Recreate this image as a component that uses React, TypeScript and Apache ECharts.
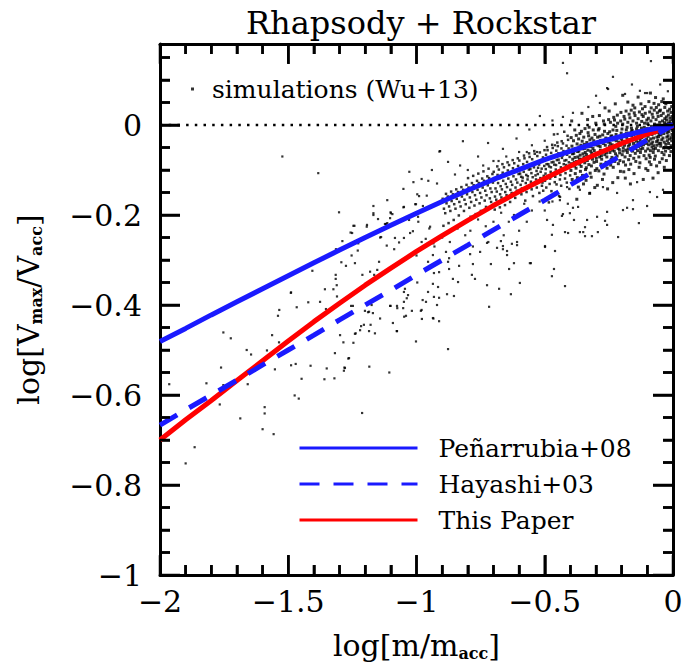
import React, { useEffect, useRef } from "react";
import * as echarts from "echarts";

const FONT = "DejaVu Serif";

// axis ranges and tick values
const X_MIN = -2, X_MAX = 0, Y_MIN = -1, Y_MAX = 0.18;
const xMajorTicks = [-2, -1.5, -1, -0.5, 0];
const xMinorTicks = [-1.9, -1.8, -1.7, -1.6, -1.4, -1.3, -1.2, -1.1, -0.9, -0.8, -0.7, -0.6, -0.4, -0.3, -0.2, -0.1];
const yMajorTicks = [-1, -0.8, -0.6, -0.4, -0.2, 0];
const yMinorTicks = [-0.95, -0.9, -0.85, -0.75, -0.7, -0.65, -0.55, -0.5, -0.45, -0.35, -0.3, -0.25, -0.15, -0.1, -0.05, 0.05, 0.1, 0.15];

// model curves, sampled at log[m/m_acc]
const logM = [-2, -1.9, -1.8, -1.7, -1.6, -1.5, -1.4, -1.3, -1.2, -1.1, -1, -0.9, -0.8, -0.7, -0.6, -0.5, -0.4, -0.3, -0.2, -0.1, 0];
const penarrubia = [-0.481, -0.452, -0.422, -0.393, -0.364, -0.335, -0.306, -0.278, -0.25, -0.223, -0.196, -0.17, -0.145, -0.121, -0.099, -0.077, -0.058, -0.04, -0.025, -0.011, 0];
const hayashi = [-0.667, -0.633, -0.6, -0.567, -0.533, -0.5, -0.467, -0.433, -0.4, -0.367, -0.333, -0.3, -0.267, -0.233, -0.2, -0.167, -0.133, -0.1, -0.067, -0.033, 0];
const thisPaper = [-0.7, -0.655, -0.612, -0.568, -0.524, -0.48, -0.437, -0.396, -0.356, -0.318, -0.281, -0.246, -0.212, -0.179, -0.148, -0.119, -0.091, -0.065, -0.041, -0.02, -0.002];

// simulations (Wu+13), dense part near m/m_acc ~ 1
const simCore: [number, number][] = [
[-0.003,0.012],[-0.006,-0.004],[-0.004,-0.021],[-0.008,0.028],[-0.005,-0.035],[-0.009,0.003],[-0.002,-0.012],[-0.007,-0.046],[-0.004,0.019],[-0.006,-0.028],[-0.009,-0.008],[-0.005,0.041],[-0.008,-0.059],
[-0.012,0.008],[-0.016,-0.015],[-0.014,-0.031],[-0.018,0.022],[-0.011,-0.002],[-0.017,-0.041],[-0.013,0.035],[-0.019,-0.024],[-0.015,-0.009],[-0.012,0.015],[-0.016,-0.052],[-0.014,-0.068],[-0.018,0.004],
[-0.022,-0.006],[-0.026,0.018],[-0.024,-0.027],[-0.028,-0.043],[-0.021,0.031],[-0.027,0.002],[-0.023,-0.017],[-0.029,-0.058],[-0.025,0.011],[-0.022,-0.035],[-0.026,-0.079],[-0.028,0.047],[-0.024,-0.011],
[-0.032,0.014],[-0.036,-0.019],[-0.034,-0.038],[-0.038,0.026],[-0.031,-0.004],[-0.037,-0.051],[-0.033,0.005],[-0.039,-0.029],[-0.035,-0.066],[-0.032,0.039],[-0.036,-0.012],[-0.034,-0.094],[-0.038,0.058],
[-0.042,-0.009],[-0.046,0.021],[-0.044,-0.033],[-0.048,-0.047],[-0.041,0.009],[-0.047,-0.022],[-0.043,-0.061],[-0.049,0.033],[-0.045,-0.003],[-0.042,-0.075],[-0.046,-0.015],[-0.044,0.052],[-0.048,-0.041],
[-0.052,0.006],[-0.056,-0.026],[-0.054,-0.041],[-0.058,0.019],[-0.051,-0.013],[-0.057,-0.057],[-0.053,0.031],[-0.059,-0.034],[-0.055,-0.007],[-0.052,-0.083],[-0.056,0.045],[-0.054,-0.021],[-0.058,-0.106],
[-0.062,-0.016],[-0.066,0.012],[-0.064,-0.037],[-0.068,-0.052],[-0.061,0.027],[-0.067,-0.004],[-0.063,-0.027],[-0.069,-0.069],[-0.065,0.039],[-0.062,-0.045],[-0.066,-0.011],[-0.064,-0.091],[-0.068,0.061],
[-0.072,0.002],[-0.076,-0.029],[-0.074,-0.046],[-0.078,0.017],[-0.071,-0.018],[-0.077,-0.061],[-0.073,0.033],[-0.079,-0.038],[-0.075,-0.008],[-0.072,-0.076],[-0.076,-0.054],[-0.074,0.048],[-0.078,-0.118],
[-0.082,-0.021],[-0.086,0.009],[-0.084,-0.042],[-0.088,-0.057],[-0.081,0.024],[-0.087,-0.031],[-0.083,-0.011],[-0.089,-0.072],[-0.085,0.038],[-0.082,-0.049],[-0.086,-0.088],[-0.084,-0.003],[-0.088,0.071],
[-0.092,-0.012],[-0.096,0.015],[-0.094,-0.036],[-0.098,-0.053],[-0.091,0.029],[-0.097,-0.025],[-0.093,-0.067],[-0.099,0.003],[-0.095,-0.044],[-0.092,-0.082],[-0.096,-0.019],[-0.094,0.052],[-0.098,-0.101],
[-0.102,0.011],[-0.106,-0.022],[-0.104,-0.041],[-0.108,0.026],[-0.101,-0.008],[-0.107,-0.058],[-0.103,-0.031],[-0.109,0.041],[-0.105,-0.075],[-0.102,-0.015],[-0.106,-0.097],
[-0.112,-0.005],[-0.116,0.019],[-0.114,-0.037],[-0.118,-0.052],[-0.111,0.004],[-0.117,-0.026],[-0.113,-0.068],[-0.119,0.036],[-0.115,-0.044],[-0.112,-0.012],[-0.116,-0.121],
[-0.122,0.008],[-0.126,-0.019],[-0.124,-0.046],[-0.128,-0.033],[-0.121,0.023],[-0.127,-0.061],[-0.123,-0.007],[-0.129,-0.084],[-0.125,0.047],[-0.122,-0.028],[-0.126,-0.054],
[-0.132,-0.013],[-0.136,0.014],[-0.134,-0.039],[-0.138,-0.057],[-0.131,0.029],[-0.137,-0.024],[-0.133,-0.071],[-0.139,-0.003],[-0.135,-0.048],[-0.132,-0.094],[-0.136,0.062],
[-0.142,0.004],[-0.146,-0.028],[-0.144,-0.045],[-0.148,0.021],[-0.141,-0.017],[-0.147,-0.063],[-0.143,-0.036],[-0.149,0.038],[-0.145,-0.081],[-0.142,-0.009],[-0.146,-0.052],
[-0.152,-0.021],[-0.156,0.009],[-0.154,-0.041],[-0.158,-0.058],[-0.151,0.027],[-0.157,-0.032],[-0.153,-0.074],[-0.159,-0.012],[-0.155,-0.049],[-0.152,-0.108],[-0.156,0.044],
[-0.162,-0.007],[-0.166,-0.035],[-0.164,-0.052],[-0.168,0.016],[-0.161,-0.024],[-0.167,-0.068],[-0.163,0.033],[-0.169,-0.043],[-0.165,-0.087],[-0.162,-0.015],[-0.166,-0.131],
[-0.172,-0.018],[-0.176,0.006],[-0.174,-0.047],[-0.178,-0.061],[-0.171,0.024],[-0.177,-0.033],[-0.173,-0.077],[-0.179,-0.005],[-0.175,-0.054],[-0.172,-0.099],[-0.176,0.051],
[-0.182,-0.011],[-0.186,-0.039],[-0.184,-0.056],[-0.188,0.013],[-0.181,-0.027],[-0.187,-0.071],[-0.183,0.031],[-0.189,-0.045],[-0.185,-0.089],[-0.182,-0.019],[-0.186,-0.118],
[-0.192,-0.024],[-0.196,0.002],[-0.194,-0.051],[-0.198,-0.066],[-0.191,0.019],[-0.197,-0.036],[-0.193,-0.082],[-0.199,-0.009],[-0.195,-0.058],[-0.192,-0.104],[-0.196,0.066],
[-0.202,-0.018],[-0.206,-0.045],[-0.204,0.009],[-0.208,-0.062],[-0.201,-0.031],[-0.207,-0.079],[-0.203,0.028],[-0.209,-0.055],[-0.205,-0.103],
[-0.212,-0.027],[-0.216,0.004],[-0.214,-0.052],[-0.218,-0.069],[-0.211,-0.038],[-0.217,0.022],[-0.213,-0.086],[-0.219,-0.012],[-0.215,-0.117],
[-0.222,-0.021],[-0.226,-0.049],[-0.224,-0.064],[-0.228,0.011],[-0.221,-0.035],[-0.227,-0.081],[-0.223,-0.003],[-0.229,-0.058],[-0.225,0.047],
[-0.232,-0.033],[-0.236,-0.056],[-0.234,-0.011],[-0.238,-0.072],[-0.231,0.017],[-0.237,-0.044],[-0.233,-0.094],[-0.239,-0.024],[-0.235,-0.128],
[-0.242,-0.026],[-0.246,-0.061],[-0.244,0.006],[-0.248,-0.048],[-0.241,-0.077],[-0.247,-0.015],[-0.243,-0.089],[-0.249,0.031],[-0.245,-0.041],
[-0.252,-0.038],[-0.256,-0.053],[-0.254,-0.019],[-0.258,-0.071],[-0.251,0.012],[-0.257,-0.096],[-0.253,-0.031],[-0.259,-0.062],[-0.255,-0.142],
[-0.262,-0.029],[-0.266,-0.066],[-0.264,-0.045],[-0.268,0.002],[-0.261,-0.083],[-0.267,-0.014],[-0.263,-0.057],[-0.269,-0.109],[-0.265,0.038],
[-0.272,-0.041],[-0.276,-0.059],[-0.274,-0.022],[-0.278,-0.076],[-0.271,0.009],[-0.277,-0.093],[-0.273,-0.035],[-0.279,-0.068],[-0.275,-0.121],
[-0.282,-0.034],[-0.286,-0.071],[-0.284,-0.048],[-0.288,-0.008],[-0.281,-0.087],[-0.287,0.021],[-0.283,-0.056],[-0.289,-0.102],[-0.285,-0.025],
[-0.292,-0.046],[-0.296,-0.063],[-0.294,-0.027],[-0.298,-0.081],[-0.291,-0.011],[-0.297,-0.097],[-0.293,-0.038],[-0.299,-0.074],[-0.295,-0.134],
[-0.302,-0.044],[-0.306,-0.068],[-0.304,-0.021],[-0.308,-0.083],[-0.301,0.004],[-0.307,-0.057],[-0.303,-0.101],[-0.309,-0.035],[-0.305,-0.139],
[-0.312,-0.052],[-0.316,-0.029],[-0.314,-0.076],[-0.318,-0.091],[-0.311,-0.011],[-0.317,-0.063],[-0.313,0.019],[-0.319,-0.116],[-0.315,-0.041],
[-0.322,-0.048],[-0.326,-0.071],[-0.324,-0.033],[-0.328,-0.088],[-0.321,-0.058],[-0.327,-0.005],[-0.323,-0.107],[-0.329,-0.024],[-0.325,-0.152],
[-0.332,-0.056],[-0.336,-0.039],[-0.334,-0.079],[-0.338,-0.095],[-0.331,-0.017],[-0.337,-0.066],[-0.333,0.012],[-0.339,-0.123],[-0.335,-0.047],
[-0.342,-0.061],[-0.346,-0.043],[-0.344,-0.084],[-0.348,-0.027],[-0.341,-0.099],[-0.347,-0.071],[-0.343,-0.008],[-0.349,-0.131],[-0.345,-0.052],
[-0.352,-0.053],[-0.356,-0.076],[-0.354,-0.036],[-0.358,-0.092],[-0.351,-0.064],[-0.357,-0.014],[-0.353,-0.112],[-0.359,-0.045],[-0.355,0.026],
[-0.362,-0.067],[-0.366,-0.049],[-0.364,-0.087],[-0.368,-0.031],[-0.361,-0.103],[-0.367,-0.058],[-0.363,-0.019],[-0.369,-0.138],[-0.365,-0.076],
[-0.372,-0.059],[-0.376,-0.081],[-0.374,-0.042],[-0.378,-0.096],[-0.371,-0.071],[-0.377,-0.023],[-0.373,-0.117],[-0.379,-0.052],[-0.375,-0.165],
[-0.382,-0.072],[-0.386,-0.054],[-0.384,-0.091],[-0.388,-0.035],[-0.381,-0.108],[-0.387,-0.063],[-0.383,-0.011],[-0.389,-0.129],[-0.385,-0.083],
[-0.392,-0.064],[-0.396,-0.086],[-0.394,-0.047],[-0.398,-0.101],[-0.391,-0.076],[-0.397,-0.028],[-0.393,-0.121],[-0.399,-0.058],[-0.395,0.009],
];

// simulations (Wu+13), intermediate stripping
const simMid: [number, number][] = [
[-0.403,-0.071],[-0.407,-0.052],[-0.405,-0.094],[-0.409,-0.033],[-0.401,-0.112],[-0.406,-0.083],[-0.404,-0.142],
[-0.413,-0.066],[-0.417,-0.089],[-0.415,-0.046],[-0.419,-0.107],[-0.411,-0.024],[-0.416,-0.078],[-0.414,-0.128],
[-0.423,-0.079],[-0.427,-0.058],[-0.425,-0.098],[-0.429,-0.041],[-0.421,-0.119],[-0.426,-0.087],[-0.424,-0.015],
[-0.433,-0.073],[-0.437,-0.094],[-0.435,-0.052],[-0.439,-0.111],[-0.431,-0.068],[-0.436,-0.135],[-0.434,-0.036],
[-0.443,-0.084],[-0.447,-0.063],[-0.445,-0.103],[-0.449,-0.047],[-0.441,-0.121],[-0.446,-0.077],[-0.444,-0.158],
[-0.453,-0.078],[-0.457,-0.099],[-0.455,-0.057],[-0.459,-0.115],[-0.451,-0.039],[-0.456,-0.089],[-0.454,-0.132],
[-0.463,-0.088],[-0.467,-0.069],[-0.465,-0.108],[-0.469,-0.051],[-0.461,-0.127],[-0.466,-0.082],[-0.464,-0.021],
[-0.473,-0.083],[-0.477,-0.104],[-0.475,-0.062],[-0.479,-0.119],[-0.471,-0.044],[-0.476,-0.094],[-0.474,-0.147],
[-0.483,-0.092],[-0.487,-0.074],[-0.485,-0.113],[-0.489,-0.056],[-0.481,-0.131],[-0.486,-0.087],[-0.484,-0.172],
[-0.493,-0.087],[-0.497,-0.108],[-0.495,-0.066],[-0.499,-0.124],[-0.491,-0.049],[-0.496,-0.098],[-0.494,-0.139],
[-0.502,-0.091],[-0.507,-0.072],[-0.504,-0.113],[-0.509,-0.128],[-0.501,-0.056],[-0.506,-0.146],
[-0.512,-0.097],[-0.517,-0.118],[-0.514,-0.079],[-0.519,-0.061],[-0.511,-0.135],[-0.516,-0.104],
[-0.522,-0.088],[-0.527,-0.109],[-0.524,-0.124],[-0.529,-0.069],[-0.521,-0.151],[-0.526,-0.095],
[-0.532,-0.102],[-0.537,-0.083],[-0.534,-0.121],[-0.539,-0.064],[-0.531,-0.139],[-0.536,-0.112],
[-0.542,-0.094],[-0.547,-0.116],[-0.544,-0.131],[-0.549,-0.076],[-0.541,-0.058],[-0.546,-0.158],
[-0.552,-0.107],[-0.557,-0.089],[-0.554,-0.126],[-0.559,-0.071],[-0.551,-0.143],[-0.556,-0.098],
[-0.562,-0.099],[-0.567,-0.121],[-0.564,-0.136],[-0.569,-0.082],[-0.561,-0.063],[-0.566,-0.114],
[-0.572,-0.111],[-0.577,-0.093],[-0.574,-0.129],[-0.579,-0.074],[-0.571,-0.149],[-0.576,-0.168],
[-0.582,-0.104],[-0.587,-0.124],[-0.584,-0.087],[-0.589,-0.141],[-0.581,-0.068],[-0.586,-0.117],
[-0.592,-0.115],[-0.597,-0.097],[-0.594,-0.133],[-0.599,-0.079],[-0.591,-0.154],[-0.596,-0.108],
[-0.602,-0.109],[-0.607,-0.128],[-0.604,-0.091],[-0.609,-0.146],[-0.605,-0.074],
[-0.612,-0.121],[-0.617,-0.103],[-0.614,-0.139],[-0.619,-0.085],[-0.615,-0.162],
[-0.622,-0.114],[-0.627,-0.133],[-0.624,-0.096],[-0.629,-0.151],[-0.625,-0.078],
[-0.632,-0.126],[-0.637,-0.108],[-0.634,-0.144],[-0.639,-0.089],[-0.635,-0.171],
[-0.642,-0.119],[-0.647,-0.138],[-0.644,-0.101],[-0.649,-0.156],[-0.645,-0.083],
[-0.652,-0.131],[-0.657,-0.113],[-0.654,-0.149],[-0.659,-0.094],[-0.655,-0.178],
[-0.662,-0.124],[-0.667,-0.143],[-0.664,-0.106],[-0.669,-0.161],[-0.665,-0.087],
[-0.672,-0.136],[-0.677,-0.118],[-0.674,-0.154],[-0.679,-0.099],[-0.675,-0.183],
[-0.682,-0.129],[-0.687,-0.148],[-0.684,-0.111],[-0.689,-0.166],[-0.685,-0.092],
[-0.692,-0.141],[-0.697,-0.123],[-0.694,-0.159],[-0.699,-0.104],[-0.695,-0.188],
[-0.702,-0.128],[-0.707,-0.149],[-0.704,-0.109],[-0.709,-0.171],
[-0.712,-0.141],[-0.717,-0.118],[-0.714,-0.163],[-0.719,-0.097],
[-0.722,-0.134],[-0.727,-0.156],[-0.724,-0.114],[-0.729,-0.182],
[-0.732,-0.146],[-0.737,-0.124],[-0.734,-0.168],[-0.739,-0.103],
[-0.742,-0.139],[-0.747,-0.161],[-0.744,-0.119],[-0.749,-0.191],
[-0.752,-0.151],[-0.757,-0.129],[-0.754,-0.174],[-0.759,-0.108],
[-0.762,-0.144],[-0.767,-0.166],[-0.764,-0.124],[-0.769,-0.198],
[-0.772,-0.156],[-0.777,-0.134],[-0.774,-0.179],[-0.779,-0.113],
[-0.782,-0.149],[-0.787,-0.171],[-0.784,-0.129],[-0.789,-0.204],
[-0.792,-0.161],[-0.797,-0.139],[-0.794,-0.184],[-0.799,-0.118],
[-0.803,-0.154],[-0.808,-0.176],[-0.805,-0.133],
[-0.813,-0.166],[-0.818,-0.144],[-0.815,-0.191],
[-0.823,-0.159],[-0.828,-0.181],[-0.825,-0.138],
[-0.833,-0.171],[-0.838,-0.149],[-0.835,-0.201],
[-0.843,-0.164],[-0.848,-0.186],[-0.845,-0.143],
[-0.853,-0.176],[-0.858,-0.154],[-0.855,-0.211],
[-0.863,-0.169],[-0.868,-0.191],[-0.865,-0.148],
[-0.873,-0.181],[-0.878,-0.159],[-0.875,-0.218],
[-0.883,-0.174],[-0.888,-0.196],[-0.885,-0.153],
[-0.893,-0.186],[-0.898,-0.164],[-0.895,-0.224],
];

// simulations (Wu+13), sparse points and outliers
const simSparse: [number, number][] = [
[-0.429,0.138],[-0.413,0.115],[-0.234,0.107],[-0.257,0.082],[-0.129,0.076],[-0.109,0.071],[-0.086,0.142],[-0.253,0.08],[-0.187,0.069],[-0.101,0.071],[-0.285,0.049],[-0.39,0.027],[-0.429,0.018],[-0.33,0.04],[-0.16,0.09],[-0.05,0.09],[-0.02,0.075],[-0.3,0.065],
[-0.519,0.02],[-0.819,-0.036],[-0.908,-0.058],[-0.721,-0.04],[-0.663,-0.053],[-0.877,-0.082],[-0.61,-0.03],[-0.56,-0.01],[-0.47,0.01],[-0.45,-0.02],[-0.76,-0.07],[-0.83,-0.09],[-0.94,-0.1],[-0.98,-0.12],[-0.6,-0.06],[-0.55,-0.045],[-0.68,-0.08],[-0.5,-0.035],
[-0.92,-0.13],[-0.85,-0.11],[-0.8,-0.1],[-0.74,-0.09],[-0.7,-0.08],[-0.65,-0.07],[-0.57,-0.06],[-0.53,-0.06],[-0.46,-0.045],
[-0.52,-0.17],[-0.55,-0.19],[-0.58,-0.175],[-0.62,-0.2],[-0.64,-0.215],[-0.67,-0.195],[-0.7,-0.215],[-0.73,-0.225],[-0.76,-0.21],[-0.79,-0.235],[-0.81,-0.245],[-0.84,-0.23],[-0.87,-0.26],[-0.9,-0.25],[-0.93,-0.27],[-0.95,-0.23],[-0.98,-0.26],[-1.0,-0.29],[-0.47,-0.17],[-0.44,-0.16],[-0.41,-0.175],[-0.5,-0.19],[-0.57,-0.215],[-0.6,-0.235],[-0.66,-0.245],[-0.72,-0.26],[-0.78,-0.27],
[-0.101,-0.18],[-0.133,-0.218],[-0.214,-0.249],[-0.316,-0.247],[-0.35,-0.238],[-0.421,-0.238],[-0.429,-0.198],[-0.472,-0.244],
[-0.499,-0.269],[-0.554,-0.307],[-0.597,-0.351],[-0.632,-0.376],[-0.678,-0.364],[-0.717,-0.404],[-0.725,-0.356],[-0.772,-0.342],[-0.784,-0.333],[-0.78,-0.309],[-0.838,-0.349],[-0.858,-0.342],[-0.854,-0.38],[-0.881,-0.376],[-0.912,-0.384],[-0.92,-0.4],[-0.932,-0.382],[-0.955,-0.371],[-0.936,-0.353],[-0.916,-0.36],[-0.936,-0.429],[-0.912,-0.436],[-0.877,-0.498],[-0.963,-0.393],
[-0.62,-0.307],[-0.639,-0.32],[-0.71,-0.309],[-0.834,-0.313],[-0.873,-0.32],[-0.912,-0.327],[-0.932,-0.329],[-0.936,-0.289],[-0.955,-0.304],[-0.877,-0.304],[-0.873,-0.296],[-0.885,-0.282],[-0.791,-0.287],[-0.752,-0.282],[-0.725,-0.262],[-0.686,-0.273],[-0.663,-0.269],[-0.663,-0.276],[-0.647,-0.28],[-0.647,-0.289],[-0.671,-0.258],[-0.628,-0.264],[-0.608,-0.26],[-0.608,-0.267],
[-0.421,-0.358],[-0.472,-0.336],[-0.464,-0.32],[-0.499,-0.271],[-0.46,-0.28],[-0.558,-0.307],[-0.293,-0.238],[-0.343,-0.247],[-0.363,-0.238],[-0.386,-0.211],[-0.409,-0.24],[-0.433,-0.202],[-0.468,-0.222],[-0.491,-0.211],[-0.156,-0.187],[-0.195,-0.189],[-0.257,-0.222],[-0.265,-0.213],
[-0.441,-0.167],[-0.402,-0.196],[-0.37,-0.182],[-0.335,-0.211],[-0.296,-0.204],[-0.257,-0.193],[-0.179,-0.184],[-0.156,-0.167],[-0.062,-0.16],[-0.039,-0.144],[-0.09,-0.149],[-0.218,-0.151],[-0.324,-0.151],[-0.363,-0.144],[-0.413,-0.138],[-0.46,-0.151],[-0.273,-0.138],[-0.14,-0.127],[-0.343,-0.227],[-0.39,-0.184],
[-1.383,-0.107],[-1.302,-0.194],[-1.028,-0.104],[-1.012,-0.127],[-0.954,-0.124],[-1.051,-0.142],[-0.911,-0.059],[-1.168,-0.18],[-1.114,-0.167],[-1.101,-0.194],[-0.997,-0.154],[-0.96,-0.157],[-1.168,-0.2],[-1.123,-0.22],[-1.242,-0.224],[-1.194,-0.226],
[-1.168,-0.196],[-1.051,-0.183],[-1.005,-0.176],[-1.094,-0.198],[-1.246,-0.224],[-1.257,-0.239],[-1.142,-0.25],[-1.114,-0.218],[-1.289,-0.258],[-1.227,-0.263],[-1.116,-0.268],[-1.087,-0.276],[-1.068,-0.261],[-0.993,-0.215],[-0.964,-0.253],[-0.934,-0.263],[-0.947,-0.226],
[-1.229,-0.279],[-1.293,-0.305],[-1.24,-0.307],[-1.146,-0.304],[-1.153,-0.322],[-1.181,-0.326],[-1.211,-0.333],[-1.165,-0.333],[-1.406,-0.324],[-1.314,-0.276],[-1.315,-0.333],[-1.315,-0.342],[-1.357,-0.365],[-1.324,-0.365],[-1.489,-0.372],[-1.376,-0.393],[-1.422,-0.394],[-1.31,-0.381],[-1.255,-0.402],[-1.175,-0.4],[-1.185,-0.415],[-1.142,-0.43],[-1.101,-0.402],[-1.075,-0.407],[-1.048,-0.426],[-1.038,-0.385],[-0.997,-0.35],[-0.976,-0.389],[-0.98,-0.411],[-0.934,-0.43],
[-1.216,-0.447],[-1.179,-0.444],[-1.237,-0.463],[-1.162,-0.463],[-1.077,-0.458],[-1.298,-0.467],[-1.285,-0.483],[-1.246,-0.484],[-1.318,-0.507],[-1.266,-0.519],[-1.413,-0.535],[-1.35,-0.541],[-1.281,-0.539],[-1.184,-0.537],[-1.32,-0.563],[-1.359,-0.565],[-1.448,-0.564],[-1.106,-0.55],[-1.002,-0.481],
[-1.253,-0.29],[-1.275,-0.313],[-1.311,-0.356],[-1.353,-0.409],[-1.24,-0.464],[-1.22,-0.456],[-1.205,-0.444],[-1.185,-0.458],[-1.189,-0.416],[-1.17,-0.418],[-1.201,-0.413],[-1.248,-0.402],[-1.103,-0.402],[-1.076,-0.402],[-1.092,-0.44],[-1.076,-0.458],[-1.052,-0.407],[-1.041,-0.424],[-1.018,-0.413],[-1.049,-0.393],[-1.033,-0.378],[-1.049,-0.371],[-1.045,-0.364],[-0.983,-0.413],[-0.979,-0.431],[-1.263,-0.518],[-1.279,-0.54],[-1.283,-0.546],[-1.212,-0.64],
[-0.99,-0.158],[-1.1,-0.196],[-1.049,-0.182],[-1.002,-0.176],[-0.975,-0.18],[-1.15,-0.209],[-1.103,-0.207],[-1.119,-0.22],[-1.193,-0.222],[-1.251,-0.24],[-1.029,-0.211],[-0.994,-0.204],[-1.014,-0.236],[-1.025,-0.24],[-1.084,-0.251],[-1.138,-0.249],[-1.049,-0.251],
[-1.523,-0.07],[-1.964,-0.576],[-1.753,-0.461],[-1.724,-0.474],[-1.819,-0.574],[-1.762,-0.539],[-1.753,-0.578],[-1.767,-0.621],[-1.687,-0.652],[-1.865,-0.716],[-1.9,-0.752],[-1.662,-0.5],[-1.645,-0.51],[-1.658,-0.576],[-1.583,-0.501],[-1.563,-0.467],[-1.536,-0.483],[-1.54,-0.424],[-1.535,-0.411],[-1.49,-0.373],[-1.467,-0.405],[-1.552,-0.543],[-1.592,-0.627],[-1.592,-0.641],[-1.6,-0.676],[-1.557,-0.687],[-1.489,-0.534],[-1.471,-0.531],[-1.475,-0.601],[-1.459,-0.608],[-1.52,-0.489],
];

const fmt = (v: number) => {
  if (Math.abs(v) < 1e-9) return "0";
  const s = parseFloat(Math.abs(v).toFixed(2)).toString();
  return v < 0 ? "\u2212" + s : s;
};

const BLUE = "#1a1aff";
const RED = "#ff0000";
const SIM = "simulations (Wu+13)";
const TICK_W = 2.5;
// tick lengths expressed in axis units (about 20 px major, 10 px minor)
const X_TICK_MAJOR = 0.044, X_TICK_MINOR = 0.022; // vertical ticks on the x axes (y units)
const Y_TICK_MAJOR = 0.078, Y_TICK_MINOR = 0.039; // horizontal ticks on the y axes (x units)

function tickSeries() {
  const out: any[] = [];
  const seg = (a: number[], b: number[]) => ({
    name: "tick",
    type: "line",
    data: [a, b],
    symbol: "none",
    silent: true,
    clip: false,
    z: 8,
    lineStyle: { color: "#000", width: TICK_W, cap: "butt" },
    emphasis: { disabled: true },
    tooltip: { show: false },
  });
  const addX = (v: number, len: number) => {
    out.push(seg([v, Y_MIN], [v, Y_MIN + len]));
    out.push(seg([v, Y_MAX], [v, Y_MAX - len]));
  };
  const addY = (v: number, len: number) => {
    out.push(seg([X_MIN, v], [X_MIN + len, v]));
    out.push(seg([X_MAX, v], [X_MAX - len, v]));
  };
  xMajorTicks.forEach((v) => addX(v, X_TICK_MAJOR));
  xMinorTicks.forEach((v) => addX(v, X_TICK_MINOR));
  yMajorTicks.forEach((v) => addY(v, Y_TICK_MAJOR));
  yMinorTicks.forEach((v) => addY(v, Y_TICK_MINOR));
  return out;
}

export default function App() {
  const ref = useRef<HTMLDivElement>(null);
  useEffect(() => {
    if (!ref.current) return;
    const chart = echarts.init(ref.current, null, { renderer: "svg" });
    const axisCommon = {
      type: "value" as const,
      splitLine: { show: false },
      axisLine: { show: true, onZero: false, lineStyle: { color: "#000", width: 3 } },
      axisTick: { show: true, inside: true, length: 20, lineStyle: { color: "#000", width: TICK_W } },
      minorSplitLine: { show: false },
    };
    const minorX = { show: true, splitNumber: 5, length: 10, lineStyle: { color: "#000", width: TICK_W } };
    const minorY = { show: true, splitNumber: 4, length: 10, lineStyle: { color: "#000", width: TICK_W } };
    const nameRich = {
      sub: { fontFamily: FONT, fontSize: 16, fontWeight: "bold" as const, color: "#000", verticalAlign: "bottom" as const, lineHeight: 32 },
    };
    chart.setOption({
      animation: false,
      backgroundColor: "#fff",
      title: {
        text: "Rhapsody + Rockstar",
        left: 416,
        textAlign: "center",
        top: 2,
        textStyle: { fontFamily: FONT, fontSize: 32, fontWeight: "normal", color: "#000" },
      },
      legend: [
        {
          data: [SIM],
          left: 191,
          top: 76,
          padding: 0,
          itemWidth: 3,
          itemHeight: 3,
          icon: "rect",
          textStyle: { fontFamily: FONT, fontSize: 25, color: "#000", padding: [0, 0, 0, 13], lineHeight: 26 },
        },
        {
          data: ["Peñarrubia+08", "Hayashi+03", "This Paper"],
          orient: "vertical",
          left: 298,
          top: 435,
          padding: 0,
          itemWidth: 118,
          itemHeight: 14,
          itemGap: 10,
          itemStyle: { opacity: 0 },
          lineStyle: { width: 3 },
          textStyle: { fontFamily: FONT, fontSize: 25, color: "#000", padding: [0, 0, 0, 16], lineHeight: 26 },
        },
      ],
      grid: { left: 160, right: 20, top: 44, bottom: 92 },
      xAxis: [
        {
          ...axisCommon,
          position: "bottom",
          min: X_MIN,
          max: X_MAX,
          interval: 0.5,
          minorTick: minorX,
          axisLabel: { fontFamily: FONT, fontSize: 30, color: "#000", margin: 11, formatter: fmt },
          name: "log[m/m{sub|acc}]",
          nameLocation: "middle",
          nameGap: 54,
          nameTextStyle: { fontFamily: FONT, fontSize: 30, color: "#000", lineHeight: 32, rich: nameRich },
        },
        {
          ...axisCommon,
          position: "top",
          min: X_MIN,
          max: X_MAX,
          interval: 0.5,
          minorTick: minorX,
          axisLabel: { show: false },
        },
      ],
      yAxis: [
        {
          ...axisCommon,
          position: "left",
          min: Y_MIN,
          max: Y_MAX,
          interval: 0.2,
          minorTick: minorY,
          axisLabel: { fontFamily: FONT, fontSize: 30, color: "#000", margin: 18, formatter: fmt, showMaxLabel: false },
          name: "log[V{sub|max}/V{sub|acc}]",
          nameLocation: "middle",
          nameGap: 116,
          nameTextStyle: { fontFamily: FONT, fontSize: 30, color: "#000", lineHeight: 32, rich: nameRich },
        },
        {
          ...axisCommon,
          position: "right",
          min: Y_MIN,
          max: Y_MAX,
          interval: 0.2,
          minorTick: minorY,
          axisLabel: { show: false },
        },
      ],
      series: [
        { name: SIM, type: "scatter", symbol: "rect", symbolSize: 3, itemStyle: { color: "#000" }, data: simCore, z: 1 },
        { name: SIM, type: "scatter", symbol: "rect", symbolSize: 2.5, itemStyle: { color: "#000" }, data: simMid, z: 1 },
        { name: SIM, type: "scatter", symbol: "rect", symbolSize: 2.2, itemStyle: { color: "#000" }, data: simSparse, z: 1 },
        {
          name: "zero",
          type: "line",
          data: [[X_MIN, 0], [X_MAX, 0]],
          symbol: "none",
          lineStyle: { color: "#000", width: 2.5, type: [2.5, 6.2] },
          z: 2,
        },
        {
          name: "This Paper",
          type: "line",
          data: logM.map((x, i) => [x, thisPaper[i]]),
          symbol: "none",
          lineStyle: { color: RED, width: 5 },
          itemStyle: { color: RED },
          z: 3,
        },
        {
          name: "Hayashi+03",
          type: "line",
          data: logM.map((x, i) => [x, hayashi[i]]),
          symbol: "none",
          lineStyle: { color: BLUE, width: 5, type: [20, 14] },
          itemStyle: { color: BLUE },
          z: 4,
        },
        {
          name: "Peñarrubia+08",
          type: "line",
          data: logM.map((x, i) => [x, penarrubia[i]]),
          symbol: "none",
          lineStyle: { color: BLUE, width: 5 },
          itemStyle: { color: BLUE },
          z: 5,
        },
        ...tickSeries(),
      ],
    });
    return () => chart.dispose();
  }, []);
  return <div ref={ref} style={{ width: 693, height: 667, margin: "-8px 0 0 -8px" }} />;
}
